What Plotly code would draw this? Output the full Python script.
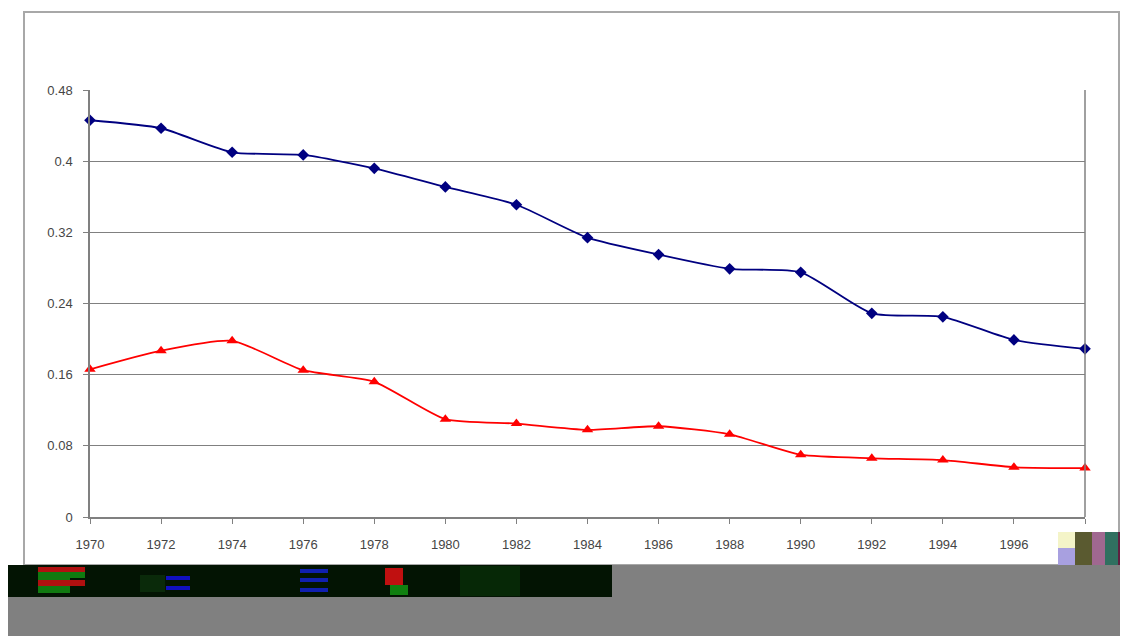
import plotly.graph_objects as go

years = [1970, 1972, 1974, 1976, 1978, 1980, 1982, 1984, 1986, 1988, 1990, 1992, 1994, 1996, 1998]
series_blue = [0.446, 0.437, 0.410, 0.407, 0.392, 0.371, 0.351, 0.314, 0.295, 0.279, 0.275, 0.229, 0.225, 0.199, 0.189]
series_red = [0.166, 0.187, 0.198, 0.165, 0.152, 0.110, 0.105, 0.098, 0.102, 0.093, 0.070, 0.066, 0.064, 0.056, 0.055]
y_ticks = [0, 0.08, 0.16, 0.24, 0.32, 0.4, 0.48]
y_tick_labels = ["0", "0.08", "0.16", "0.24", "0.32", "0.4", "0.48"]

OFF = 8  # page body margin
W, H = 1128 - OFF, 636 - OFF
def px(x): return (x - OFF) / W
def py(y): return 1 - (y - OFF) / H

fig = go.Figure()
fig.add_trace(go.Scatter(
    x=years, y=series_blue, mode="lines+markers",
    line=dict(color="#000080", width=1.8, shape="spline", smoothing=0.6),
    marker=dict(symbol="diamond", size=9, color="#000080"),
    cliponaxis=False, showlegend=False))
fig.add_trace(go.Scatter(
    x=years, y=series_red, mode="lines+markers",
    line=dict(color="#FF0000", width=1.8, shape="spline", smoothing=0.6),
    marker=dict(symbol="triangle-up", size=10, color="#FF0000"),
    cliponaxis=False, showlegend=False))

shapes = []
# outer chart border
shapes.append(dict(type="rect", xref="paper", yref="paper",
                   x0=px(24), x1=px(1119), y0=py(565), y1=py(12),
                   line=dict(color="#a8a8a8", width=2), layer="below"))
# plot area right border
shapes.append(dict(type="line", xref="paper", yref="paper",
                   x0=px(1085), x1=px(1085), y0=py(517), y1=py(90),
                   line=dict(color="#808080", width=1.5)))
# gray bottom region
shapes.append(dict(type="rect", xref="paper", yref="paper",
                   x0=px(8), x1=1, y0=0, y1=py(597),
                   line=dict(width=0), fillcolor="#808080"))
shapes.append(dict(type="rect", xref="paper", yref="paper",
                   x0=px(612), x1=1, y0=0, y1=py(565),
                   line=dict(width=0), fillcolor="#808080"))
# dark corrupted legend strip
shapes.append(dict(type="rect", xref="paper", yref="paper",
                   x0=px(8), x1=px(612), y0=py(597), y1=py(565),
                   line=dict(width=0), fillcolor="#031403"))
strip_bits = [
    (38, 85, 567, 572, "#b01010"), (38, 70, 572, 580, "#107a10"), (38, 70, 580, 586, "#b01010"),
    (38, 70, 586, 593, "#107a10"), (70, 85, 572, 578, "#107a10"), (70, 85, 580, 586, "#b01010"),
    (166, 190, 576, 580, "#1010c0"), (166, 190, 586, 590, "#1010c0"),
    (300, 328, 569, 573, "#1020b0"), (300, 328, 578, 582, "#1020b0"), (300, 328, 588, 592, "#1020b0"),
    (385, 403, 568, 585, "#c01010"), (390, 408, 585, 595, "#108010"),
    (140, 165, 575, 592, "#0a2a0a"), (460, 520, 566, 596, "#062806"),
]
for x0, x1, y0, y1, c in strip_bits:
    shapes.append(dict(type="rect", xref="paper", yref="paper",
                       x0=px(x0), x1=px(x1), y0=py(y1), y1=py(y0),
                       line=dict(width=0), fillcolor=c))
# corrupted block over last label
block_bits = [
    (1058, 1075, 532, 548, "#f4f4c8"), (1058, 1075, 548, 565, "#a8a0e0"),
    (1075, 1092, 532, 565, "#5a5a30"), (1092, 1105, 532, 565, "#a06890"),
    (1105, 1118, 532, 565, "#307060"), (1118, 1128, 532, 565, "#602040"),
]
for x0, x1, y0, y1, c in block_bits:
    shapes.append(dict(type="rect", xref="paper", yref="paper",
                       x0=px(x0), x1=px(x1), y0=py(y1), y1=py(y0),
                       line=dict(width=0), fillcolor=c))

fig.update_layout(
    width=W, height=H,
    margin=dict(l=0, r=0, t=0, b=0, pad=0),
    paper_bgcolor="white", plot_bgcolor="white",
    font=dict(family="Liberation Sans, Arial, sans-serif", size=13, color="#454545"),
    shapes=shapes,
    xaxis=dict(domain=[px(90), px(1085)], range=[1970, 1998], automargin=False,
               tickmode="array", tickvals=years, ticktext=[str(y) for y in years],
               showgrid=False, zeroline=False,
               showline=True, linecolor="#808080", linewidth=1.5,
               ticks="outside", ticklen=5, tickcolor="#808080",
               ticklabelstandoff=10),
    yaxis=dict(domain=[py(517), py(90)], range=[0, 0.48], automargin=False,
               tickmode="array", tickvals=y_ticks, ticktext=y_tick_labels,
               showgrid=True, gridcolor="#808080", gridwidth=1, zeroline=False,
               showline=True, linecolor="#808080", linewidth=1.5,
               ticks="outside", ticklen=5, tickcolor="#808080",
               ticklabelstandoff=8),
)
fig.write_html("out.html")
